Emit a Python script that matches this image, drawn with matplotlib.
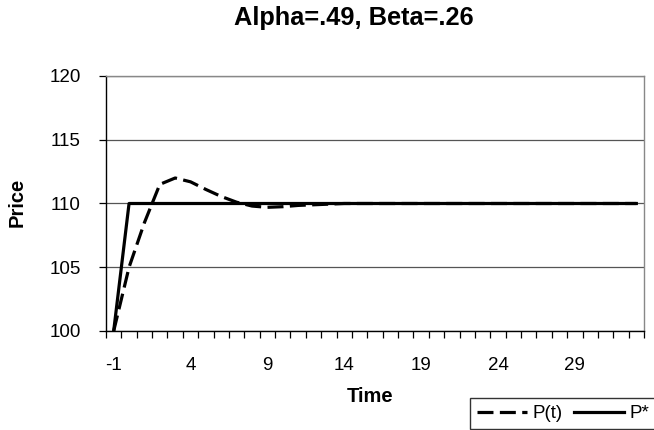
import matplotlib
matplotlib.use("Agg")
import matplotlib.pyplot as plt
from matplotlib.lines import Line2D

plt.rcParams['font.family'] = ['Liberation Sans', 'DejaVu Sans']

time = list(range(-1, 34))
p_t = [100, 105.0, 108.5, 111.5, 112.0, 111.7, 111.1, 110.55, 110.1, 109.8,
       109.7, 109.75, 109.85, 109.9, 109.95, 110.0, 110.0, 110.0, 110.0, 110.0,
       110.0, 110.0, 110.0, 110.0, 110.0, 110.0, 110.0, 110.0, 110.0, 110.0,
       110.0, 110.0, 110.0, 110.0, 110.0]
p_star = [100] + [110] * 34
x_tick_labels = ["-1", "4", "9", "14", "19", "24", "29"]
y_ticks = [100, 105, 110, 115, 120]

FS = 13.5

fig = plt.figure(figsize=(6.54, 4.30), dpi=100)
ax = fig.add_axes([106/654, 1-331/430, (644-106)/654, (331-76)/430])

idx = list(range(len(time)))
ax.plot(idx, p_t, color='black', lw=2.3, dashes=(5, 2), label='P(t)', zorder=3)
ax.plot(idx, p_star, color='black', lw=2.3, label='P*', zorder=4)

ax.set_xlim(-0.5, len(time) - 0.5)
ax.set_ylim(100, 120)
ax.set_yticks(y_ticks)
ax.set_yticklabels([str(v) for v in y_ticks], fontsize=FS)
ax.yaxis.grid(True, color='#555555', lw=0.9)
ax.set_axisbelow(True)

label_pos = [time.index(int(s)) for s in x_tick_labels]
ax.set_xticks(label_pos)
ax.set_xticklabels(x_tick_labels, fontsize=FS)
ax.tick_params(axis='x', which='major', length=0, pad=19)
ax.set_xticks([i - 0.5 for i in range(len(time) + 1)], minor=True)
ax.tick_params(axis='x', which='minor', length=5, width=0.9, direction='out')
ax.tick_params(axis='y', length=5, width=0.9, direction='out', pad=13)

for s in ['left', 'bottom']:
    ax.spines[s].set_color('black')
    ax.spines[s].set_linewidth(1.0)
for s in ['right', 'top']:
    ax.spines[s].set_color('#888888')
    ax.spines[s].set_linewidth(1.0)

fig.text(17/654, 1-202/430, 'Price', rotation=90, ha='center', va='center',
         fontsize=14.5, fontweight='bold')
fig.text(370/654, 1-396/430, 'Time', ha='center', va='center',
         fontsize=14.5, fontweight='bold')
fig.text(354/654, 1-18/430, 'Alpha=.49, Beta=.26', ha='center', va='center',
         fontsize=18.3, fontweight='bold')

handles = [Line2D([], [], color='black', lw=2.3, dashes=(5, 2)),
           Line2D([], [], color='black', lw=2.3)]
leg = fig.legend(handles, ['P(t)', 'P*'], loc='lower left',
                 bbox_to_anchor=(470/654, 1/430), ncol=2, fontsize=FS,
                 frameon=True, fancybox=False, edgecolor='black',
                 handlelength=2.67, handletextpad=0.27, columnspacing=0.64,
                 borderpad=0.37, borderaxespad=0)
leg.get_frame().set_linewidth(1.0)

fig.savefig('out.png', dpi=100)
